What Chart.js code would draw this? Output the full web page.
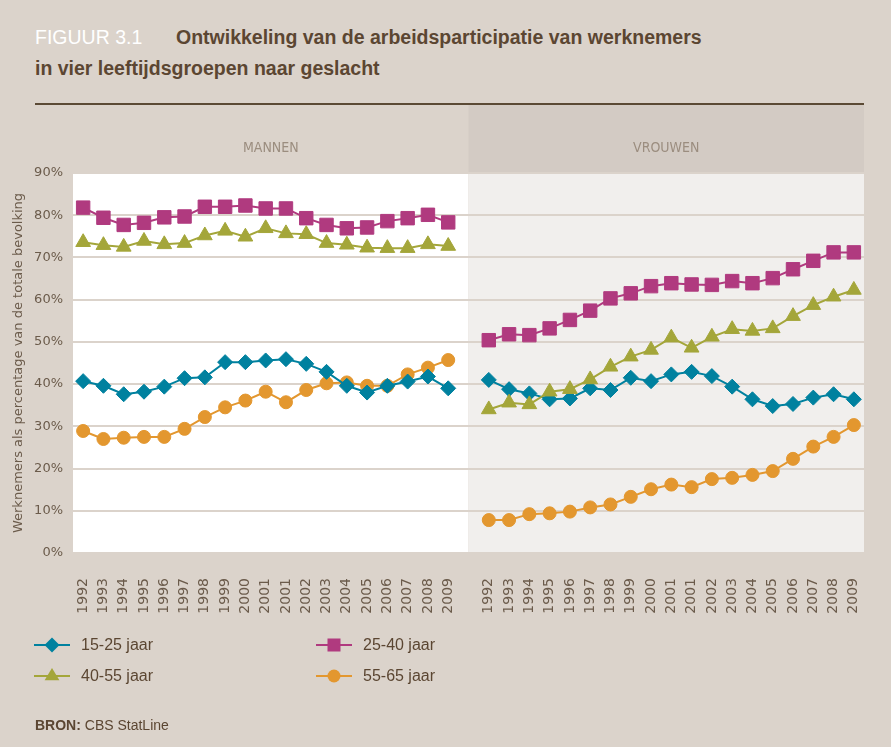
<!DOCTYPE html>
<html lang="nl">
<head>
<meta charset="utf-8">
<title>Figuur 3.1</title>
<script src="https://cdn.jsdelivr.net/npm/chart.js@4.4.1/dist/chart.umd.min.js"></script>
<style>
  html, body { margin: 0; padding: 0; }
  body {
    width: 891px; height: 747px; position: relative; overflow: hidden;
    background: #dbd3cb; font-family: "Liberation Sans", Arial, sans-serif;
  }
  #chart { position: absolute; left: 0; top: 0; }
  .title {
    position: absolute; left: 35px; font-size: 19.5px; line-height: 20px;
    font-weight: bold; color: #5b4632; white-space: nowrap;
  }
  .title .fig { display: inline-block; width: 141px; color: #fff; font-weight: normal; }
  .rule { position: absolute; left: 35px; top: 103px; width: 829px; height: 2px; background: #5b4a35; }
  .item { position: absolute; height: 20px; }
  .item svg { position: absolute; left: 0; top: 2px; }
  .item span {
    position: absolute; left: 47px; top: 0; font-size: 16px; line-height: 20px;
    color: #5b4632; white-space: nowrap;
  }
  .source { position: absolute; left: 35px; top: 716px; font-size: 14px; line-height: 18px; color: #5b4632; }
</style>
</head>
<body>
<div class="title" style="top:27px"><span class="fig">FIGUUR 3.1</span>Ontwikkeling van de arbeidsparticipatie van werknemers</div>
<div class="title" style="top:58px">in vier leeftijdsgroepen naar geslacht</div>
<div class="rule"></div>
<canvas id="chart" width="891" height="747"></canvas>
<div id="legend"></div>
<div class="source"><b>BRON:</b> CBS StatLine</div>

<script>
// jaren (2001 staat twee keer in de bron)
const years = ['1992', '1993', '1994', '1995', '1996', '1997', '1998', '1999', '2000',
  '2001', '2001', '2002', '2003', '2004', '2005', '2006', '2007', '2008', '2009'];
const panels = ['MANNEN', 'VROUWEN'];
const seriesNames = ['15-25 jaar', '25-40 jaar', '40-55 jaar', '55-65 jaar'];

// mannen
const mannen1525 = [40.7, 39.6, 37.6, 38.2, 39.4, 41.4, 41.6, 45.2, 45.2, 45.6, 45.9, 44.8, 42.9, 39.6, 38.0, 39.6, 40.6, 41.8, 39.0];
const mannen2540 = [81.8, 79.4, 77.7, 78.2, 79.5, 79.7, 82.0, 82.0, 82.3, 81.6, 81.6, 79.3, 77.7, 76.9, 77.1, 78.6, 79.3, 80.1, 78.3];
const mannen4055 = [73.6, 72.9, 72.5, 73.9, 73.1, 73.4, 75.2, 76.3, 74.9, 76.9, 75.7, 75.5, 73.4, 73.0, 72.3, 72.2, 72.2, 73.1, 72.7];
const mannen5565 = [28.9, 27.0, 27.3, 27.5, 27.5, 29.4, 32.2, 34.5, 36.1, 38.2, 35.7, 38.6, 40.2, 40.4, 39.6, 39.6, 42.3, 43.9, 45.7];

// vrouwen
const vrouwen1525 = [41.0, 38.8, 37.8, 36.4, 36.6, 39.0, 38.6, 41.5, 40.7, 42.3, 42.9, 41.9, 39.4, 36.4, 34.8, 35.3, 36.8, 37.6, 36.4];
const vrouwen2540 = [50.4, 51.8, 51.6, 53.2, 55.2, 57.4, 60.3, 61.5, 63.2, 63.9, 63.6, 63.5, 64.4, 63.9, 65.1, 67.2, 69.2, 71.2, 71.2];
const vrouwen4055 = [34.0, 35.6, 35.2, 38.2, 38.8, 41.1, 44.1, 46.5, 48.1, 51.0, 48.6, 51.2, 53.0, 52.6, 53.2, 56.1, 58.7, 60.7, 62.3];
const vrouwen5565 = [7.8, 7.8, 9.2, 9.4, 9.8, 10.8, 11.5, 13.3, 15.1, 16.2, 15.6, 17.5, 17.8, 18.5, 19.4, 22.3, 25.2, 27.5, 30.3];

const colors = ['#00819f', '#b03a7f', '#a4a63a', '#e3972f'];
const shapes = ['rectRot', 'rect', 'triangle', 'circle'];
const radii = [7.5, 9.5, 8.5, 6.5];
const drawOrder = [2, 0, 1, 3];

// een lege categorie tussen mannen en vrouwen
const labels = [...years, '', ...years];
const joined = (m, v) => [...m, null, ...v];
const series = [
  joined(mannen1525, vrouwen1525),
  joined(mannen2540, vrouwen2540),
  joined(mannen4055, vrouwen4055),
  joined(mannen5565, vrouwen5565)
];

const tickColor = '#6b5b4b';
const chartFont = 'DejaVu Sans';

const panelPlugin = {
  id: 'panels',
  beforeDraw(chart) {
    const { ctx, chartArea: a, scales: { x } } = chart;
    const mid = x.getPixelForValue(years.length);
    ctx.save();
    ctx.fillStyle = '#ffffff';
    ctx.fillRect(a.left, a.top, mid - a.left, a.bottom - a.top);
    ctx.fillStyle = '#f1efed';
    ctx.fillRect(mid, a.top, a.right - mid, a.bottom - a.top);
    ctx.fillStyle = '#d3cbc4';
    ctx.fillRect(mid, 105, a.right - mid, a.top - 105);
    ctx.font = '14px "Liberation Sans Narrow", "DejaVu Sans Condensed", "Liberation Sans", sans-serif';
    ctx.fillStyle = '#9b8d7f';
    ctx.textAlign = 'center';
    ctx.textBaseline = 'middle';
    ctx.fillText(panels[0], (a.left + mid) / 2, 148);
    ctx.fillText(panels[1], (mid + a.right) / 2, 148);
    ctx.restore();
  }
};

new Chart(document.getElementById('chart'), {
  type: 'line',
  data: {
    labels: labels,
    datasets: series.map((d, i) => ({
      label: seriesNames[i],
      data: d,
      order: drawOrder[i],
      borderColor: colors[i],
      backgroundColor: colors[i],
      borderWidth: 2,
      pointStyle: shapes[i],
      pointRadius: radii[i],
      pointBorderWidth: 1,
      pointBorderColor: colors[i],
      pointBackgroundColor: colors[i],
      spanGaps: false,
      tension: 0
    }))
  },
  options: {
    responsive: false,
    animation: false,
    layout: { padding: { top: 173, right: 27, left: 0, bottom: 0 } },
    plugins: { legend: { display: false }, tooltip: { enabled: false } },
    scales: {
      x: {
        offset: true,
        grid: { display: false },
        border: { display: false },
        afterFit: (s) => { s.height = 194; },
        ticks: {
          autoSkip: false, maxRotation: 90, minRotation: 90, padding: 17,
          color: tickColor, font: { family: chartFont, size: 14 }
        }
      },
      y: {
        min: 0, max: 90,
        grid: { color: '#dbd3cb', lineWidth: 2, drawTicks: false },
        border: { display: false },
        afterFit: (s) => { s.width = 73; },
        ticks: {
          stepSize: 10, padding: 10, color: tickColor,
          font: { family: chartFont, size: 13 },
          callback: (v) => v + '%'
        },
        title: {
          display: true,
          text: 'Werknemers als percentage van de totale bevolking',
          color: tickColor,
          font: { family: chartFont, size: 13 },
          padding: { top: 11, bottom: 0 }
        }
      }
    }
  },
  plugins: [panelPlugin]
});

// legenda
function markerSvg(i) {
  const c = colors[i];
  let m = '';
  if (shapes[i] === 'rectRot') m = `<polygon points="18,0.5 25.5,8 18,15.5 10.5,8" fill="${c}"/>`;
  else if (shapes[i] === 'rect') m = `<rect x="11.5" y="1.5" width="13" height="13" fill="${c}"/>`;
  else if (shapes[i] === 'triangle') m = `<polygon points="18,0 25.4,12.3 10.6,12.3" fill="${c}"/>`;
  else m = `<circle cx="18" cy="8" r="6.5" fill="${c}"/>`;
  return `<svg width="36" height="16"><line x1="0" y1="8" x2="36" y2="8" stroke="${c}" stroke-width="2"/>${m}</svg>`;
}
const legendPos = [[34, 635], [316, 635], [34, 666], [316, 666]];
document.getElementById('legend').innerHTML = seriesNames.map((n, i) =>
  `<div class="item" style="left:${legendPos[i][0]}px;top:${legendPos[i][1]}px">${markerSvg(i)}<span>${n}</span></div>`
).join('');
</script>
</body>
</html>
